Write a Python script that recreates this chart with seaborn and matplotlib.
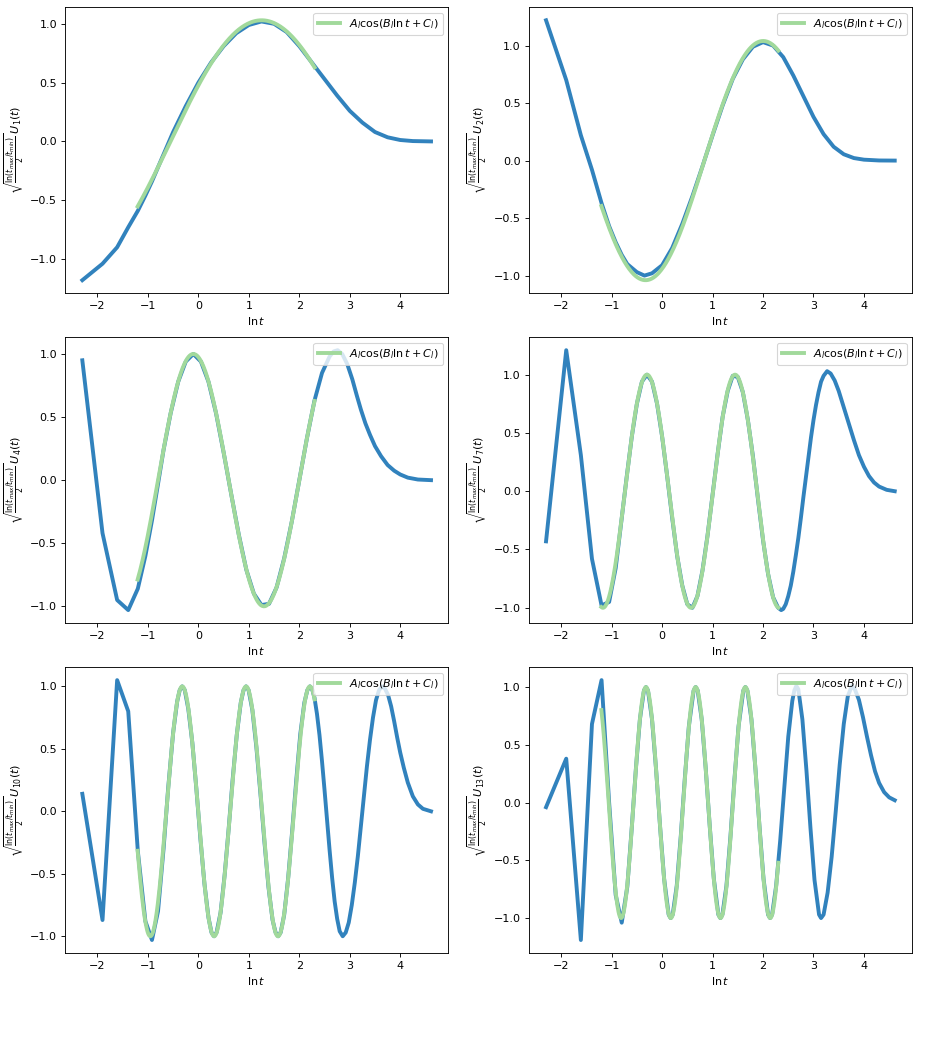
import numpy as np
import matplotlib
matplotlib.use("Agg")
import matplotlib.pyplot as plt
import seaborn as sns

# orden l de cada panel
orders = [1, 2, 4, 7, 10, 13]

# curvas U_l (ln t, valor)
x_u1 = [-2.30, -1.90, -1.61, -1.39, -1.20, -1.05, -0.92, -0.80, -0.69, -0.50, -0.25, 0.00, 0.25, 0.50, 0.75,
        1.00, 1.25, 1.50, 1.75, 2.00, 2.25, 2.50, 2.75, 3.00, 3.25, 3.50, 3.75, 4.00, 4.25, 4.61]
y_u1 = [-1.18, -1.04, -0.90, -0.73, -0.59, -0.46, -0.34, -0.22, -0.11, 0.08, 0.30, 0.50, 0.67, 0.81, 0.92,
        0.99, 1.02, 1.00, 0.93, 0.81, 0.67, 0.53, 0.39, 0.26, 0.16, 0.08, 0.035, 0.012, 0.003, 0.0]

x_u2 = [-2.30, -1.90, -1.61, -1.39, -1.20, -1.05, -0.92, -0.80, -0.69, -0.50, -0.35, -0.20, 0.00, 0.20, 0.40,
        0.60, 0.80, 1.00, 1.20, 1.40, 1.60, 1.80, 2.00, 2.20, 2.40, 2.60, 2.80, 3.00, 3.20, 3.40, 3.60, 3.80,
        4.00, 4.30, 4.61]
y_u2 = [1.22, 0.70, 0.22, -0.08, -0.37, -0.57, -0.71, -0.82, -0.90, -0.97, -1.00, -0.98, -0.91, -0.76, -0.55,
        -0.31, -0.05, 0.22, 0.48, 0.71, 0.88, 0.99, 1.03, 1.00, 0.90, 0.74, 0.56, 0.38, 0.23, 0.12, 0.055, 0.022,
        0.008, 0.001, 0.0]

x_u4 = [-2.30, -1.90, -1.61, -1.39, -1.20, -1.05, -0.92, -0.80, -0.69, -0.55, -0.40, -0.25, -0.10, 0.05, 0.20,
        0.35, 0.50, 0.65, 0.80, 0.95, 1.10, 1.25, 1.40, 1.55, 1.70, 1.85, 2.00, 2.15, 2.30, 2.45, 2.60, 2.68,
        2.76, 2.85, 2.95, 3.05, 3.14, 3.22, 3.31, 3.40, 3.50, 3.62, 3.75, 3.88, 4.00, 4.15, 4.35, 4.61]
y_u4 = [0.95, -0.42, -0.95, -1.03, -0.86, -0.60, -0.32, -0.03, 0.24, 0.53, 0.78, 0.94, 1.00, 0.94, 0.78,
        0.53, 0.22, -0.11, -0.43, -0.71, -0.90, -0.99, -0.98, -0.85, -0.62, -0.33, 0.00, 0.33, 0.63, 0.85, 0.98, 1.02,
        1.03, 1.00, 0.92, 0.80, 0.67, 0.56, 0.45, 0.36, 0.27, 0.19, 0.12, 0.075, 0.045, 0.02, 0.005, 0.0]

x_u7 = [-2.30, -1.90, -1.61, -1.39, -1.20, -1.05, -0.92, -0.80, -0.70, -0.60, -0.50, -0.40, -0.30, -0.20, -0.10,
        0.00, 0.10, 0.20, 0.30, 0.40, 0.50, 0.60, 0.70, 0.80, 0.90, 1.00, 1.10, 1.20, 1.30, 1.40, 1.50, 1.60,
        1.70, 1.80, 1.90, 2.00, 2.10, 2.20, 2.30, 2.36, 2.40, 2.45, 2.50, 2.55, 2.60, 2.65, 2.70, 2.75, 2.80,
        2.85, 2.90, 2.95, 3.00, 3.05, 3.10, 3.15, 3.20, 3.27, 3.34, 3.42, 3.50, 3.60, 3.70, 3.80, 3.90, 4.00,
        4.10, 4.20, 4.30, 4.45, 4.61]
y_u7 = [-0.43, 1.21, 0.31, -0.58, -0.98, -0.95, -0.66, -0.23, 0.13, 0.47, 0.75, 0.94, 1.00, 0.94, 0.75,
        0.47, 0.13, -0.23, -0.56, -0.81, -0.97, -1.00, -0.90, -0.68, -0.38, -0.03, 0.32, 0.64, 0.86, 0.99, 0.98, 0.85,
        0.61, 0.30, -0.07, -0.42, -0.71, -0.91, -1.00, -1.02, -1.01, -0.97, -0.90, -0.81, -0.69, -0.55, -0.40, -0.23,
        -0.05, 0.12, 0.29, 0.46, 0.61, 0.74, 0.85, 0.94, 0.99, 1.03, 1.01, 0.95, 0.86, 0.72, 0.58, 0.44, 0.31, 0.21,
        0.13, 0.075, 0.04, 0.012, 0.0]

x_u10 = [-2.30, -1.90, -1.61, -1.39, -1.20, -1.05, -0.92, -0.80, -0.69, -0.60, -0.50, -0.42, -0.37, -0.32, -0.27,
         -0.20, -0.12, -0.04, 0.04, 0.12, 0.20, 0.26, 0.31, 0.36, 0.44, 0.52, 0.60, 0.68, 0.76, 0.84, 0.895, 0.945,
         0.995, 1.07, 1.15, 1.23, 1.31, 1.39, 1.47, 1.53, 1.58, 1.63, 1.70, 1.78, 1.86, 1.94, 2.02, 2.10, 2.16,
         2.21, 2.26, 2.30, 2.35, 2.40, 2.45, 2.50, 2.55, 2.60, 2.65, 2.70, 2.75, 2.80, 2.86, 2.92, 2.98, 3.04,
         3.10, 3.16, 3.22, 3.28, 3.34, 3.40, 3.46, 3.52, 3.58, 3.64, 3.70, 3.76, 3.82, 3.88, 3.94, 4.00, 4.07,
         4.15, 4.25, 4.35, 4.45, 4.61]
y_u10 = [0.14, -0.87, 1.05, 0.80, -0.32, -0.88, -1.03, -0.80, -0.30, 0.18, 0.63, 0.88, 0.97, 1.00, 0.97,
         0.82, 0.55, 0.18, -0.22, -0.58, -0.85, -0.97, -1.00, -0.97, -0.81, -0.51, -0.14, 0.26, 0.61, 0.87, 0.97, 1.00,
         0.97, 0.81, 0.51, 0.14, -0.25, -0.61, -0.87, -0.97, -1.00, -0.97, -0.83, -0.53, -0.15, 0.25, 0.62, 0.87, 0.97,
         1.00, 0.97, 0.91, 0.78, 0.61, 0.40, 0.17, -0.07, -0.31, -0.53, -0.72, -0.86, -0.96, -1.00, -0.97, -0.89, -0.75,
         -0.57, -0.36, -0.12, 0.12, 0.36, 0.57, 0.75, 0.89, 0.97, 1.00, 0.98, 0.93, 0.84, 0.72, 0.59, 0.47, 0.35,
         0.23, 0.12, 0.055, 0.02, 0.0]

x_u13 = [-2.30, -1.90, -1.61, -1.39, -1.20, -1.05, -0.92, -0.80, -0.69, -0.60, -0.52, -0.44, -0.36, -0.32, -0.28,
         -0.20, -0.12, -0.04, 0.04, 0.13, 0.17, 0.21, 0.29, 0.37, 0.45, 0.53, 0.625, 0.665, 0.705, 0.785, 0.865,
         0.945, 1.025, 1.115, 1.155, 1.195, 1.275, 1.355, 1.435, 1.515, 1.61, 1.65, 1.69, 1.77, 1.85, 1.93, 2.01,
         2.10, 2.14, 2.18, 2.26, 2.34, 2.42, 2.50, 2.58, 2.62, 2.66, 2.70, 2.78, 2.86, 2.94, 3.02, 3.11, 3.15,
         3.20, 3.28, 3.36, 3.44, 3.52, 3.60, 3.68, 3.76, 3.82, 3.90, 3.98, 4.06, 4.14, 4.22, 4.30, 4.40, 4.50, 4.61]
y_u13 = [-0.04, 0.38, -1.19, 0.68, 1.06, 0.00, -0.80, -1.04, -0.73, -0.21, 0.29, 0.72, 0.97, 1.00, 0.97,
         0.72, 0.29, -0.21, -0.66, -0.97, -1.00, -0.97, -0.72, -0.29, 0.21, 0.66, 0.97, 1.00, 0.97, 0.72, 0.29,
         -0.21, -0.66, -0.97, -1.00, -0.97, -0.72, -0.29, 0.21, 0.66, 0.97, 1.00, 0.97, 0.72, 0.29, -0.21, -0.66,
         -0.97, -1.00, -0.97, -0.72, -0.33, 0.12, 0.57, 0.88, 0.97, 1.01, 0.98, 0.72, 0.28, -0.22, -0.67, -0.97, -1.00,
         -0.97, -0.78, -0.47, -0.08, 0.33, 0.68, 0.92, 1.01, 0.98, 0.89, 0.74, 0.57, 0.41, 0.27, 0.17, 0.09, 0.045, 0.02]

curves_x = [x_u1, x_u2, x_u4, x_u7, x_u10, x_u13]
curves_y = [y_u1, y_u2, y_u4, y_u7, y_u10, y_u13]

# ajuste A_l cos(B_l ln t + C_l) en t de 0.3 a 10
fit_A = [1.03, 1.04, 1.00, 1.00, 1.00, 1.00]
fit_B = [0.87, 1.348, 2.244, 3.60, 4.967, 6.38]
fit_C = [-1.09, -2.70, 0.224, 1.08, 1.589, 2.04]
t_fit_min, t_fit_max = 0.3, 10.0

azul = "#3182bd"
verde = "#a1d99b"

fig, axes = plt.subplots(3, 2, figsize=(927 / 80, 1042 / 80), dpi=80)
fig.subplots_adjust(left=0.070, right=0.984, top=0.993, bottom=0.0854, wspace=0.209, hspace=0.154)

for ax, l, xs, ys, A, B, C in zip(axes.flat, orders, curves_x, curves_y, fit_A, fit_B, fit_C):
    sns.lineplot(x=xs, y=ys, ax=ax, color=azul, linewidth=3.5, estimator=None, sort=False)
    lnt = np.linspace(np.log(t_fit_min), np.log(t_fit_max), 300)
    sns.lineplot(x=lnt, y=A * np.cos(B * lnt + C), ax=ax, color=verde, linewidth=3.5,
                 estimator=None, label=r"$A_l\cos(B_l\ln t+C_l)$")
    ax.set_xlabel(r"$\ln t$")
    ax.set_ylabel(r"$\sqrt{\frac{\ln(t_{max}/t_{min})}{2}}\,U_{%d}(t)$" % l)
    ax.legend(loc="upper right")

fig.savefig("out.png", dpi=80)
